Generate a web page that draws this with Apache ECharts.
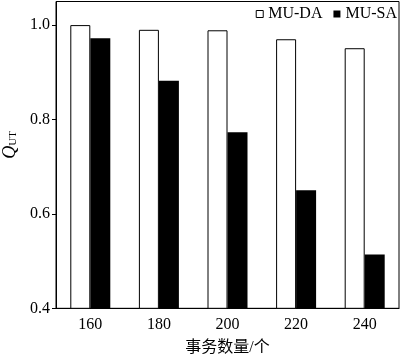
<!DOCTYPE html>
<html><head><meta charset="utf-8">
<script src="https://cdn.jsdelivr.net/npm/echarts@6/dist/echarts.min.js"></script>
<style>html,body{margin:0;padding:0;background:#fff}#c{width:400px;height:357px}</style>
</head><body><div id="c"></div>
<script>
const categories = ['160', '180', '200', '220', '240'];
const muDA = [1.000, 0.990, 0.989, 0.970, 0.951];
const muSA = [0.972, 0.882, 0.773, 0.650, 0.514];
const yTicks = [0.4, 0.6, 0.8, 1.0];
const xName = '事务数量/个';

const font = '"Liberation Serif", "Times New Roman", "Noto Sans CJK SC", serif';
const legendText = {fontFamily: font, fontSize: 16, color: '#000'};
const chart = echarts.init(document.getElementById('c'), null, {renderer: 'canvas'});
chart.setOption({
  animation: false,
  textStyle: {fontFamily: font, color: '#000'},
  grid: {left: 56, right: 1, top: 1.5, bottom: 48.7, show: true, borderColor: '#000', borderWidth: 1,
         backgroundColor: 'transparent', containLabel: false, outerBoundsMode: 'none'},
  legend: {
    right: 3, top: 6, padding: 0, itemWidth: 7, itemHeight: 7, itemGap: 11,
    textStyle: legendText,
    data: [
      {name: 'MU-DA', icon: 'rect', textStyle: legendText, itemStyle: {color: '#fff', borderColor: '#000', borderWidth: 1}},
      {name: 'MU-SA', icon: 'rect', textStyle: legendText, itemStyle: {color: '#000'}}
    ]
  },
  xAxis: {
    type: 'category', data: categories,
    axisTick: {show: false},
    axisLine: {lineStyle: {color: '#000', width: 1}},
    axisLabel: {fontFamily: font, fontSize: 16, color: '#000', margin: 8},
    name: xName, nameLocation: 'middle', nameGap: 31,
    nameTextStyle: {fontFamily: font, fontSize: 16, color: '#000'}
  },
  yAxis: {
    type: 'value', min: 0.4, max: 1.05, interval: 0.2,
    splitLine: {show: false},
    axisLine: {show: true, lineStyle: {color: '#000', width: 1}},
    axisTick: {show: true, length: 4, lineStyle: {color: '#000'}, customValues: yTicks},
    axisLabel: {fontFamily: font, fontSize: 16, color: '#000', margin: 6,
      customValues: yTicks,
      formatter: v => v.toFixed(1)},
    name: '{q|Q}{s|UT}', nameLocation: 'middle', nameGap: 34, nameRotate: 90,
    nameTextStyle: {
      rich: {
        q: {fontFamily: font, fontSize: 18, fontStyle: 'italic', color: '#000', padding: [0, 0, 0, 20]},
        s: {fontFamily: font, fontSize: 11, color: '#000', verticalAlign: 'bottom', padding: [7, 0, 0, 0]}
      }
    }
  },
  series: [
    {name: 'MU-DA', type: 'bar', data: muDA, barWidth: 20, barGap: '0%',
     itemStyle: {color: '#fff', borderColor: '#000', borderWidth: 1}},
    {name: 'MU-SA', type: 'bar', data: muSA, barWidth: 20, barGap: '0%',
     itemStyle: {color: '#000'}}
  ]
});
</script></body></html>
